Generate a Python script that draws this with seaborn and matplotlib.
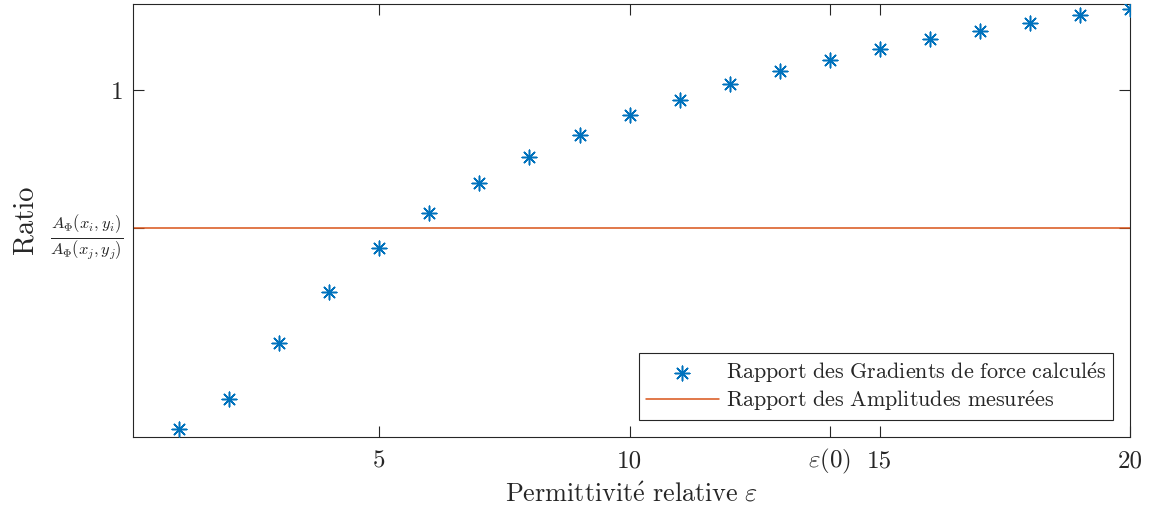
import matplotlib
matplotlib.use("Agg")
import matplotlib.pyplot as plt
import seaborn as sns
import pandas as pd

# permittivity values and computed gradient ratio
eps = [1, 2, 3, 4, 5, 6, 7, 8, 9, 10, 11, 12, 13, 14, 15, 16, 17, 18, 19, 20]
ratio_calc = [0.264, 0.329, 0.451, 0.562, 0.657, 0.734, 0.799, 0.856, 0.904, 0.946,
              0.980, 1.014, 1.043, 1.067, 1.090, 1.112, 1.130, 1.147, 1.163, 1.176]
ratio_meas = 0.70
eps0 = 14

x_ticks = [5, 10, eps0, 15, 20]
x_ticklabels = ["5", "10", r"$\varepsilon(0)$", "15", "20"]
y_ticks = [ratio_meas, 1]
y_ticklabels = [r"$\frac{A_\Phi(x_i,y_i)}{A_\Phi(x_j,y_j)}$", "1"]

label_calc = r"$\mathrm{Rapport\ des\ Gradients\ de\ force\ calcul\acute{e}s}$"
label_meas = r"$\mathrm{Rapport\ des\ Amplitudes\ mesur\acute{e}es}$"
xlabel = r"$\mathrm{Permittivit\acute{e}\ relative}\ \varepsilon$"

sns.set_style("ticks")
plt.rcParams["font.family"] = ["cmr10", "DejaVu Serif"]
plt.rcParams["mathtext.fontset"] = "cm"
plt.rcParams["axes.formatter.use_mathtext"] = True

blue = "#0072BD"
orange = "#D95319"

df = pd.DataFrame({"eps": eps, "ratio": ratio_calc})

fig = plt.figure(figsize=(11.53, 5.15), dpi=100)
ax = fig.add_axes([0.1154, 0.1515, 0.9801 - 0.1154, 0.9932 - 0.1515])

sns.scatterplot(data=df, x="eps", y="ratio", marker=(8, 2, 0), s=110,
                color=blue, edgecolor=blue, linewidth=1.1, ax=ax,
                label=label_calc, zorder=3)
ax.axhline(ratio_meas, color=orange, lw=1.1, zorder=2, label=label_meas)

ax.set_xlim(0.08, 20)
ax.set_ylim(0.246, 1.189)
ax.set_xticks(x_ticks)
ax.set_xticklabels(x_ticklabels)
ax.set_yticks(y_ticks)
ax.set_yticklabels(y_ticklabels)
ax.tick_params(direction="in", length=8, width=0.8, top=True, right=True,
               labelsize=18, colors="#262626")
ax.tick_params(axis="x", pad=22.3)
ax.tick_params(axis="y", pad=7)
for lbl in ax.get_xticklabels():
    lbl.set_va("baseline")
ax.get_yticklabels()[0].set_fontsize(17)
for sp in ax.spines.values():
    sp.set_visible(True)
    sp.set_color("#262626")
    sp.set_linewidth(0.8)

ax.set_xlabel(xlabel, fontsize=18.9, labelpad=4)
ax.set_ylabel("Ratio", fontsize=20.5, labelpad=8)

leg = ax.legend(loc="lower right", fontsize=15.9, frameon=True, fancybox=False,
                edgecolor="#262626", framealpha=1, handlelength=3.3,
                handletextpad=0.3, borderaxespad=0.78, borderpad=0.3,
                labelspacing=0.15)
leg.get_frame().set_linewidth(0.8)

fig.savefig("out.png", dpi=100)
